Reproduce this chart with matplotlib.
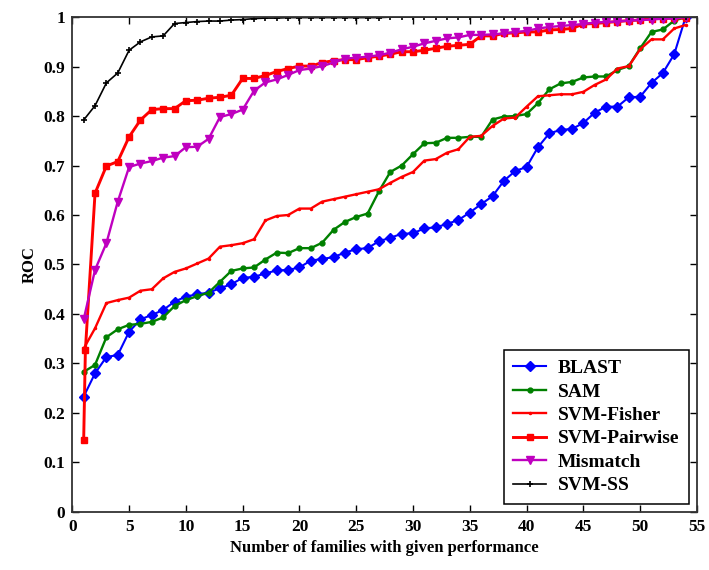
import matplotlib
matplotlib.use("Agg")
from matplotlib import pyplot as plt
from matplotlib.ticker import FuncFormatter, MultipleLocator

families = list(range(1, 55))

blast = [0.233, 0.280, 0.313, 0.317, 0.364, 0.389, 0.398, 0.408, 0.425, 0.435,
         0.440, 0.443, 0.452, 0.460, 0.473, 0.475, 0.482, 0.488, 0.489, 0.494,
         0.508, 0.511, 0.515, 0.524, 0.531, 0.533, 0.547, 0.554, 0.562, 0.563,
         0.573, 0.575, 0.582, 0.590, 0.605, 0.622, 0.638, 0.669, 0.689, 0.697,
         0.737, 0.765, 0.772, 0.774, 0.786, 0.807, 0.819, 0.819, 0.838, 0.839,
         0.867, 0.887, 0.925, 1.000]

sam = [0.283, 0.297, 0.353, 0.369, 0.378, 0.380, 0.384, 0.393, 0.416, 0.428,
       0.436, 0.443, 0.465, 0.487, 0.492, 0.494, 0.510, 0.524, 0.523, 0.533,
       0.533, 0.544, 0.570, 0.586, 0.596, 0.603, 0.648, 0.687, 0.700, 0.723,
       0.745, 0.746, 0.756, 0.756, 0.758, 0.758, 0.793, 0.799, 0.800, 0.804,
       0.826, 0.854, 0.866, 0.869, 0.878, 0.880, 0.880, 0.893, 0.901, 0.937,
       0.970, 0.975, 0.993, 1.000]

svm_fisher = [0.330, 0.371, 0.422, 0.428, 0.433, 0.447, 0.450, 0.472, 0.485, 0.492,
              0.502, 0.512, 0.536, 0.539, 0.543, 0.551, 0.589, 0.598, 0.600, 0.613,
              0.613, 0.627, 0.632, 0.637, 0.642, 0.647, 0.652, 0.665, 0.677, 0.687,
              0.710, 0.713, 0.726, 0.733, 0.758, 0.760, 0.780, 0.795, 0.797, 0.819,
              0.840, 0.842, 0.844, 0.844, 0.849, 0.863, 0.874, 0.896, 0.901, 0.935,
              0.955, 0.955, 0.977, 0.984]

# pairwise has an extra point just right of x=1
pairwise_x = [1, 1.15] + list(range(2, 55))
svm_pairwise = [0.145, 0.327, 0.644, 0.699, 0.708, 0.758, 0.792, 0.813, 0.815, 0.815,
                0.831, 0.832, 0.836, 0.838, 0.842, 0.876, 0.876, 0.882, 0.890, 0.896,
                0.901, 0.901, 0.908, 0.912, 0.914, 0.914, 0.918, 0.921, 0.925, 0.930,
                0.930, 0.933, 0.937, 0.941, 0.943, 0.945, 0.962, 0.962, 0.967, 0.968,
                0.970, 0.970, 0.974, 0.975, 0.977, 0.986, 0.987, 0.989, 0.991, 0.993,
                0.994, 0.997, 0.997, 0.998, 0.998]

mismatch = [0.389, 0.489, 0.543, 0.627, 0.697, 0.704, 0.709, 0.716, 0.719, 0.737,
            0.738, 0.754, 0.798, 0.804, 0.813, 0.851, 0.868, 0.874, 0.883, 0.893,
            0.896, 0.901, 0.908, 0.916, 0.918, 0.920, 0.923, 0.928, 0.935, 0.940,
            0.947, 0.952, 0.957, 0.959, 0.964, 0.964, 0.965, 0.967, 0.970, 0.972,
            0.977, 0.980, 0.982, 0.984, 0.986, 0.989, 0.990, 0.991, 0.993, 0.994,
            0.995, 0.997, 0.997, 1.000]

svm_ss = [0.792, 0.821, 0.867, 0.887, 0.933, 0.950, 0.960, 0.962, 0.987, 0.989,
          0.991, 0.992, 0.992, 0.994, 0.995, 0.997, 0.998, 0.998, 0.999, 0.999,
          0.999, 0.999, 0.999, 0.999, 0.999, 0.999, 0.999, 1.000, 1.000, 1.000,
          1.000, 1.000, 1.000, 1.000, 1.000, 1.000, 1.000, 1.000, 1.000, 1.000,
          1.000, 1.000, 1.000, 1.000, 1.000, 1.000, 1.000, 1.000, 1.000, 1.000,
          1.000, 1.000, 1.000, 1.000]

plt.rcParams['font.family'] = ['Liberation Serif', 'DejaVu Serif']
plt.rcParams['font.weight'] = 'bold'

fig = plt.figure(figsize=(7.09, 5.70), dpi=100)
ax = fig.add_axes([0.102, 0.102, 0.881, 0.868])

ax.plot(families, blast, color='#0000ff', marker='D', markersize=5, lw=1.5, label='BLAST')
ax.plot(families, sam, color='#008000', marker='o', markersize=3.5, lw=1.7, label='SAM')
ax.plot(families, svm_fisher, color='#ff0000', marker='.', markersize=3, lw=1.7, label='SVM-Fisher')
ax.plot(pairwise_x, svm_pairwise, color='#ff0000', marker='s', markersize=5, lw=2.1, label='SVM-Pairwise')
ax.plot(families, mismatch, color='#bf00bf', marker='v', markersize=6, lw=1.7, label='Mismatch')
ax.plot(families, svm_ss, color='black', marker='+', markersize=4, mew=1.2, lw=1.2, label='SVM-SS')

ax.set_xlim(0, 55)
ax.set_ylim(0, 1)
ax.xaxis.set_major_locator(MultipleLocator(5))
ax.yaxis.set_major_locator(MultipleLocator(0.1))
ax.yaxis.set_major_formatter(FuncFormatter(lambda v, p: f'{v:g}'))
ax.tick_params(direction='in', top=True, right=True, length=5, width=1, labelsize=12.5, pad=5)
for s in ax.spines.values():
    s.set_linewidth(1.3)
    s.set_color('#333333')

ax.set_xlabel('Number of families with given performance', fontsize=12, fontweight='bold')
ax.set_ylabel('ROC', fontsize=12, fontweight='bold')

leg = ax.legend(loc='lower right', fontsize=14, fancybox=False, framealpha=1,
                edgecolor='black', borderaxespad=0.4, handlelength=1.7,
                handletextpad=0.6, labelspacing=0.3, borderpad=0.5)
leg.get_frame().set_linewidth(1.1)

fig.savefig('out.png', dpi=100)
